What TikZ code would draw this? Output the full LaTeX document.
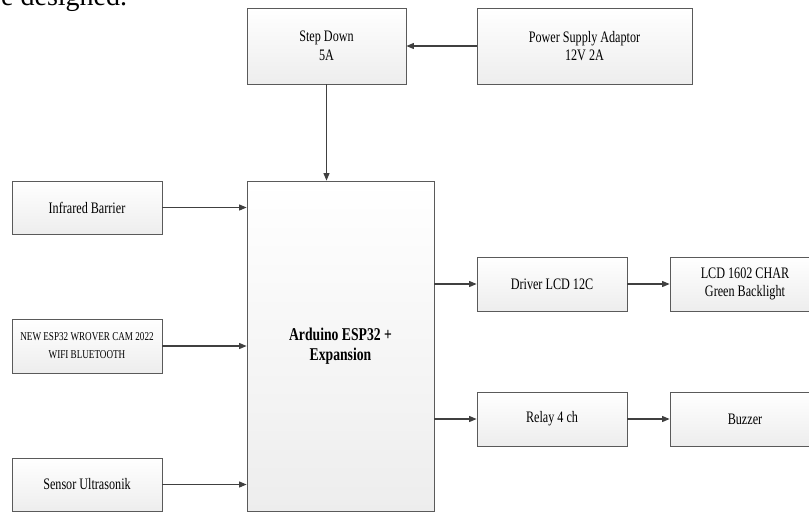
\documentclass[tikz,border=0pt]{standalone}
\usepackage{fontspec}
\setmainfont{Liberation Serif}[FakeStretch=0.76]
\newfontfamily\bodyfont{Liberation Serif}
\usetikzlibrary{arrows.meta,shadows}
\definecolor{edgecol}{HTML}{404040}
\definecolor{boxline}{HTML}{5A5A5A}
\tikzset{
  blk/.style={draw=boxline, line width=0.8pt, top color=white, bottom color=black!7,
    align=center, inner sep=2pt, text=black,
    font=\fontsize{16}{18.5}\selectfont,
    drop shadow={shadow xshift=1.2pt, shadow yshift=-1.2pt, fill=black!35, opacity=0.5}},
  arr/.style={draw=edgecol, line width=1.1pt, -{Triangle[length=7.5pt,width=6pt]}},
}
\begin{document}
\begin{tikzpicture}[x=1pt,y=-1pt]
\useasboundingbox (0,0) rectangle (809,512);
\node[anchor=base west, inner sep=0pt, font=\bodyfont\fontsize{28}{32}\selectfont] (cap) at (-13,5) {be designed.};
\node[blk, minimum width=159pt, minimum height=76pt] (sd) at (326.5,46) {Step Down\\5A};
\node[blk, minimum width=215pt, minimum height=76pt] (ps) at (584.5,46) {Power Supply Adaptor\\12V 2A};
\node[blk, minimum width=187pt, minimum height=330pt, font=\bfseries\fontsize{18}{20}\selectfont] (ard) at (340.5,346) {Arduino ESP32 +\\Expansion};
\node[blk, minimum width=150pt, minimum height=53pt] (ir) at (87,207.5) {Infrared Barrier};
\node[blk, minimum width=150pt, minimum height=54pt, font=\fontsize{12}{18}\selectfont] (esp) at (87,346) {NEW ESP32 WROVER CAM 2022\\WIFI BLUETOOTH};
\node[blk, minimum width=150pt, minimum height=53pt] (us) at (87,484.5) {Sensor Ultrasonik};
\node[blk, minimum width=150pt, minimum height=54pt] (drv) at (552,284) {Driver LCD 12C};
\node[blk, minimum width=150pt, minimum height=54pt] (lcd) at (745,284) {LCD 1602 CHAR\\Green Backlight};
\node[blk, minimum width=150pt, minimum height=54pt] (rly) at (552,419) {Relay 4 ch};
\node[blk, minimum width=150pt, minimum height=54pt] (bz) at (745,419) {Buzzer};
\draw[arr] (ps.west) -- (sd.east);
\draw[arr] (sd.south) -- (sd.south |- ard.north);
\draw[arr] (ir.east) -- (ir.east -| ard.west);
\draw[arr] (esp.east) -- (esp.east -| ard.west);
\draw[arr] (us.east) -- (us.east -| ard.west);
\draw[arr] (drv.west -| ard.east) -- (drv.west);
\draw[arr] (rly.west -| ard.east) -- (rly.west);
\draw[arr] (drv.east) -- (lcd.west);
\draw[arr] (rly.east) -- (bz.west);
\end{tikzpicture}
\end{document}
